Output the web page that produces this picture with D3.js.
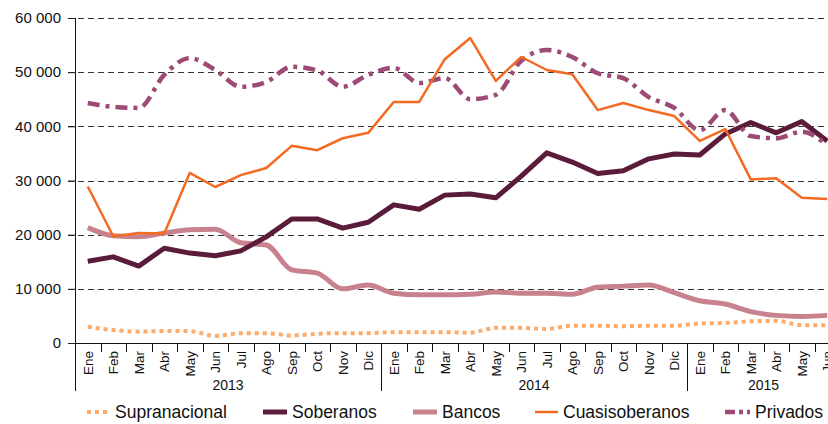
<!DOCTYPE html>
<html>
<head>
<meta charset="utf-8">
<script src="https://cdn.jsdelivr.net/npm/d3@7"></script>
<style>
  body { margin: 0; background: #fff; }
  svg { display: block; font-family: "Liberation Sans", Arial, sans-serif; }
</style>
</head>
<body>
<div class="chart"></div>
<script>
// data (millions)
const months = ["Ene","Feb","Mar","Abr","May","Jun","Jul","Ago","Sep","Oct","Nov","Dic",
                "Ene","Feb","Mar","Abr","May","Jun","Jul","Ago","Sep","Oct","Nov","Dic",
                "Ene","Feb","Mar","Abr","May","Jun"]
const years = ["2013", "2014", "2015"]
const yTicks = [0, 10000, 20000, 30000, 40000, 50000, 60000]

const supranacional = [3000,2400,2100,2200,2200,1300,1800,1800,1400,1700,1800,1800,
                       2000,2000,2000,1900,2800,2800,2600,3200,3200,3100,3200,3200,
                       3600,3700,4000,4100,3300,3300]
const soberanos = [15100,15900,14200,17500,16600,16100,17000,19600,22900,22900,21200,22300,
                   25500,24700,27300,27500,26800,30800,35100,33400,31300,31800,34000,34900,
                   34700,38600,40700,38800,40900,37300]
const bancos = [21300,19800,19600,20300,20900,21000,18500,18100,13500,12900,10000,10700,
                9200,8900,8900,9000,9400,9200,9200,9000,10300,10500,10700,9300,
                7800,7200,5800,5100,4900,5100]
const cuasisoberanos = [28900,19700,20300,20200,31400,28800,31000,32300,36400,35600,37800,38800,
                        44500,44500,52400,56300,48400,52800,50400,49600,43000,44300,43000,41900,
                        37300,39500,30200,30400,26800,26600]
const privados = [44300,43600,43400,49500,52600,50400,47300,48200,51000,50300,47300,49500,
                  50800,48000,48900,45000,45800,52100,54100,52800,49800,48900,45400,43400,
                  39300,43000,38200,37800,39000,36500]

const W = 828, H = 424
const marginLeft = 75, marginTop = 18, plotH = 325, plotRight = 840

const svg = d3.select(".chart").append("svg")
    .attr("width", W)
    .attr("height", H)

const x = d3.scaleBand()
    .domain(d3.range(months.length))
    .range([marginLeft, plotRight])
    .padding(0)

const y = d3.scaleLinear()
    .domain([0, 60000])
    .range([marginTop + plotH, marginTop])

const fmt = d3.formatLocale({decimal: ",", thousands: " ", grouping: [3], currency: ["", ""]}).format(",")

// gridlines
svg.append("g")
    .selectAll("line")
    .data(yTicks.filter(d => d > 0))
    .enter()
    .append("line")
    .attr("x1", marginLeft - 7)
    .attr("x2", plotRight)
    .attr("y1", d => Math.round(y(d)) + 0.5)
    .attr("y2", d => Math.round(y(d)) + 0.5)
    .attr("stroke", "#333")
    .attr("stroke-dasharray", "6,4")

// y axis
const yAxis = d3.axisLeft(y)
    .tickValues(yTicks)
    .tickFormat(fmt)
    .tickSize(7)
    .tickPadding(7)

svg.append("g")
    .attr("class", "y axis")
    .attr("transform", "translate(" + marginLeft + ",0)")
    .call(yAxis)
    .call(g => g.select(".domain").remove())
    .call(g => g.selectAll("text").style("font-size", "15px").attr("fill", "#111"))
    .call(g => g.selectAll("line").attr("stroke", "#222"))

// vertical axis line running down into the year band
svg.append("line")
    .attr("x1", marginLeft + 0.5).attr("x2", marginLeft + 0.5)
    .attr("y1", marginTop).attr("y2", 391)
    .attr("stroke", "#111")

// x axis
svg.append("line")
    .attr("x1", marginLeft).attr("x2", plotRight)
    .attr("y1", y(0) + 0.5).attr("y2", y(0) + 0.5)
    .attr("stroke", "#111")

// month ticks (between months) and year separators
svg.append("g")
    .selectAll("line")
    .data(d3.range(1, months.length))
    .enter()
    .append("line")
    .attr("x1", d => Math.round(x(d)) + 0.5)
    .attr("x2", d => Math.round(x(d)) + 0.5)
    .attr("y1", y(0))
    .attr("y2", d => d % 12 === 0 ? 391 : y(0) + 9)
    .attr("stroke", "#111")

// month labels
svg.append("g")
    .selectAll("text")
    .data(months)
    .enter()
    .append("text")
    .attr("transform", (d, i) => "translate(" + (x(i) + x.bandwidth() / 2 + 5) + "," + (y(0) + 8) + ") rotate(-90)")
    .attr("text-anchor", "end")
    .style("font-size", "13.5px")
    .attr("fill", "#111")
    .text(d => d)

// year labels, centred over the months each year has
svg.append("g")
    .selectAll("text")
    .data(years)
    .enter()
    .append("text")
    .attr("x", (d, i) => {
      const n = Math.min(12, months.length - i * 12)
      return x(i * 12) + x.bandwidth() * n / 2
    })
    .attr("y", 390)
    .attr("text-anchor", "middle")
    .style("font-size", "14px")
    .attr("fill", "#111")
    .text(d => d)

const series = [
  {name: "Supranacional", values: supranacional, color: "#fcab6b", width: 4, dash: "4,4", curve: d3.curveMonotoneX},
  {name: "Bancos", values: bancos, color: "#c8828e", width: 5, dash: null, curve: d3.curveMonotoneX},
  {name: "Soberanos", values: soberanos, color: "#5a1c3a", width: 5, dash: null, curve: d3.curveLinear},
  {name: "Privados", values: privados, color: "#9e4a76", width: 4.5, dash: "12,6,4,6", curve: d3.curveMonotoneX},
  {name: "Cuasisoberanos", values: cuasisoberanos, color: "#f36a23", width: 2.5, dash: null, curve: d3.curveLinear}
]

series.forEach(s => {
  const line = d3.line()
      .x((d, i) => x(i) + x.bandwidth() / 2)
      .y(d => y(d))
      .curve(s.curve)
  svg.append("path")
      .datum(s.values)
      .attr("d", line)
      .attr("fill", "none")
      .attr("stroke", s.color)
      .attr("stroke-width", s.width)
      .attr("stroke-dasharray", s.dash)
      .attr("stroke-linejoin", "round")
})

// legend
const legend = [
  {name: "Supranacional", x1: 87, x2: 110, tx: 115},
  {name: "Soberanos", x1: 263, x2: 287, tx: 292},
  {name: "Bancos", x1: 413, x2: 437, tx: 442},
  {name: "Cuasisoberanos", x1: 535, x2: 558, tx: 563},
  {name: "Privados", x1: 725, x2: 750, tx: 755}
]

const lg = svg.append("g")
legend.forEach(l => {
  const s = series.find(d => d.name === l.name)
  lg.append("line")
      .attr("x1", l.x1).attr("x2", l.x2)
      .attr("y1", 412).attr("y2", 412)
      .attr("stroke", s.color)
      .attr("stroke-width", s.width)
      .attr("stroke-dasharray", s.name === "Privados" ? "10,4,4,4" : s.dash)
  lg.append("text")
      .attr("x", l.tx)
      .attr("y", 418)
      .style("font-size", "17.5px")
      .attr("fill", "#111")
      .text(l.name)
})
</script>
</body>
</html>
